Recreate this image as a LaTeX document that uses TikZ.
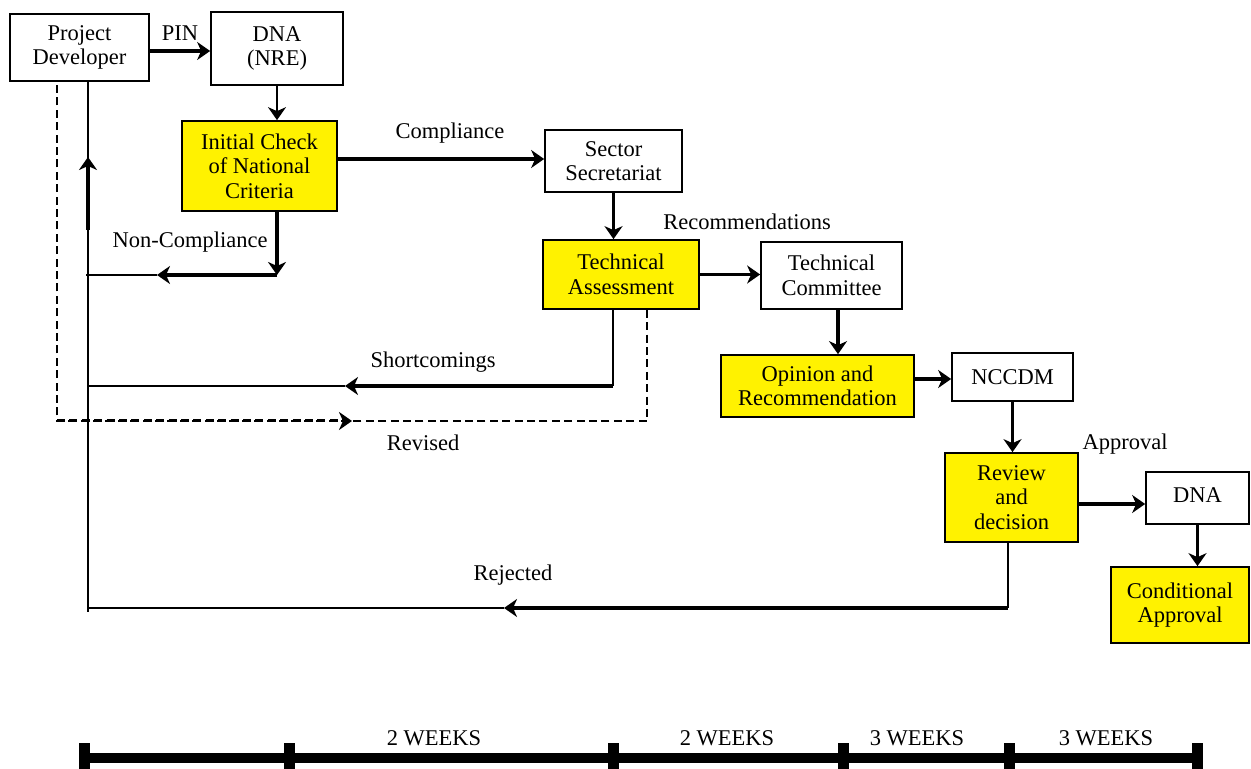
\documentclass[tikz,border=0pt]{standalone}
\usepackage{fontspec}
\setmainfont{Liberation Serif}
\usetikzlibrary{arrows.meta}

\begin{document}
\begin{tikzpicture}[x=0.5pt,y=-0.5pt,
  font=\fontsize{11.25}{12.25}\selectfont,
  box/.style={draw=black, line width=0.85pt, inner sep=0pt, align=center, text=black},
  hl/.style={box, fill=yellow},
  fine/.style={line width=0.9pt},
  heavy/.style={line width=1.9pt},
  arr/.style={-{Stealth[length=6.5pt,width=9pt,inset=2pt]}},
  lbl/.style={inner sep=0pt, text=black},
  wk/.style={inner sep=0pt, text=black},
  brk/.style={dash pattern=on 4pt off 2.2pt},
]
\useasboundingbox (0,0) rectangle (1251,769);
\clip (0,0) rectangle (1251,769);
\fill[white] (0,0) rectangle (1251,769);

% process boxes
\node[box, minimum width=69.5pt, minimum height=33.5pt] (pd)    at (79.5,47.5)  {Project\\Developer};
\node[box, minimum width=66pt,   minimum height=36.5pt] (dna)   at (277,48.5)   {DNA\\(NRE)};
\node[hl,  minimum width=77.5pt, minimum height=45pt]   (ic)    at (259.5,166)  {Initial Check\\of National\\Criteria};
\node[box, minimum width=68.5pt, minimum height=31pt]   (ss)    at (613.5,161)  {Sector\\Secretariat};
\node[hl,  minimum width=78pt,   minimum height=34.5pt] (ta)    at (621,274.5)  {Technical\\Assessment};
\node[box, minimum width=70.5pt, minimum height=33.5pt] (tc)    at (831.5,275.5){Technical\\Committee};
\node[hl,  minimum width=96.5pt, minimum height=31pt]   (opr)   at (817.5,386)  {Opinion and\\Recommendation};
\node[box, minimum width=60.5pt, minimum height=24pt]   (nccdm) at (1012.5,377) {NCCDM};
\node[hl,  minimum width=66.5pt, minimum height=44.5pt] (rd)    at (1011.5,497.5){Review\\and\\decision};
\node[box, minimum width=51.5pt, minimum height=26pt]   (dnb)   at (1197.5,498) {\raisebox{3pt}{DNA}};
\node[hl,  minimum width=69pt,   minimum height=38pt]   (ca)    at (1180,605)   {Conditional\\Approval};

% connector labels
\node[lbl] (lpin) at (180,33)   {PIN};
\node[lbl] (lcom) at (450,133)  {Compliance};
\node[lbl] (lnon) at (190,242)  {Non-Compliance};
\node[lbl] (lrec) at (747,222)  {Recommendations};
\node[lbl] (lsho) at (433,362)  {Shortcomings};
\node[lbl] (lrev) at (423,443)  {Revised};
\node[lbl] (lapp) at (1125,444) {Approval};
\node[lbl] (lrej) at (513,575)  {Rejected};

% anchor points on box edges
\coordinate (pinA) at ([yshift=-1.75pt]pd.east);
\coordinate (comA) at ([yshift=3.5pt]ic.east);
\coordinate (tcA)  at ([xshift=3.25pt]tc.south);
\coordinate (orA)  at ([yshift=3.5pt]opr.east);
\coordinate (rdA)  at ([yshift=-3.25pt]rd.east);
\coordinate (ncA)  at ([xshift=8.75pt]ic.south);
\coordinate (shA)  at ([xshift=-4pt]ta.south);
\coordinate (rvA)  at ([xshift=13pt]ta.south);
\coordinate (rjA)  at ([xshift=-1.75pt]rd.south);
\coordinate (spT)  at (pd.south -| 88,0);
\coordinate (spB)  at (88,612);
\coordinate (dsT)  at (pd.south -| 57,0);

% forward flow
\draw[heavy,arr] (pinA) -- (pinA -| dna.west);
\draw[fine,arr]  (dna.south) -- (dna.south |- ic.north);
\draw[heavy,arr] (comA) -- (comA -| ss.west);
\draw[heavy,arr] (ss.south) -- (ss.south |- ta.north);
\draw[heavy,arr] (ta.east) -- (ta.east -| tc.west);
\draw[heavy,arr] (tcA) -- (tcA |- opr.north);
\draw[heavy,arr] (orA) -- (orA -| nccdm.west);
\draw[heavy,arr] (nccdm.south) -- (nccdm.south |- rd.north);
\draw[heavy,arr] (rdA) -- (rdA -| dnb.west);
\draw[heavy,arr] (dnb.south) -- (dnb.south |- ca.north);

% return line to the project developer
\draw[fine] (spT) -- (spB);
\draw[heavy,arr] (88,230) -- (88,157);

% non-compliance
\draw[heavy,arr] (ncA) -- (ncA |- 0,275);
\draw[fine] (157,275) -- (86,275);
\draw[heavy,arr] (ncA |- 0,275) -- (157,275);

% shortcomings
\draw[fine] (shA) -- (shA |- 0,386);
\draw[fine] (345,386) -- (spT |- 0,386);
\draw[heavy,arr] (shA |- 0,386) -- (345,386);

% revised submission
\draw[fine,brk] (rvA) -- (rvA |- 0,421) -- (dsT |- 0,421) -- (dsT);
\draw[line width=1.5pt,brk,arr] (dsT |- 0,421) -- (352,421);

% rejected
\draw[fine] (rjA) -- (rjA |- 0,608);
\draw[fine] (504,608) -- (spT |- 0,608);
\draw[heavy,arr] (rjA |- 0,608) -- (504,608);

% time line
\draw[line width=5pt] (84,758) -- (1197,758);
\foreach \x in {84,289,613,843,1009,1197}
  \draw[line width=5.5pt] (\x,743) -- (\x,790);
\node[wk] (w1) at (434,738)  {2 WEEKS};
\node[wk] (w2) at (727,738)  {2 WEEKS};
\node[wk] (w3) at (917,738)  {3 WEEKS};
\node[wk] (w4) at (1106,738) {3 WEEKS};
\end{tikzpicture}
\end{document}
